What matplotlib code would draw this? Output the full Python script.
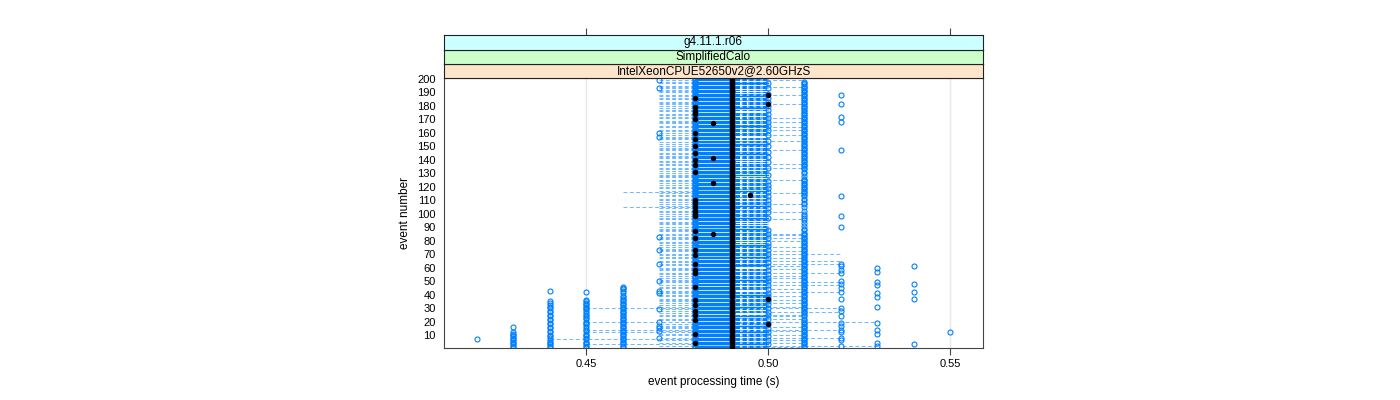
import numpy as np
import matplotlib
matplotlib.use('Agg')
import matplotlib.pyplot as plt

plt.rcParams['font.family'] = ['Liberation Sans', 'DejaVu Sans']

# data: event numbers and the times (s) at which runs were recorded
events = np.arange(1, 201)

col_042 = [7]
col_043 = [1, 2, 3, 4, 5, 6, 7, 8, 9, 10, 11, 12, 16]
col_044 = [1, 2, 3, 4, 5, 6, 8, 9, 10, 12, 13, 15, 16, 18, 19, 21, 22, 24, 25, 27, 28, 30, 31,
           32, 34, 35, 43]
col_045 = [1, 2, 3, 4, 5, 7, 8, 9, 10, 11, 13, 14, 15, 17, 18, 19, 20, 22, 23, 24, 25, 26, 28,
           29, 30, 31, 32, 33, 34, 35, 36, 42]
col_046 = [1, 2, 3, 4, 5, 6, 7, 8, 9, 10, 11, 12, 13, 14, 15, 16, 17, 18, 19, 20, 21, 22, 23, 24,
           25, 26, 27, 28, 29, 30, 31, 32, 33, 34, 35, 36, 37, 38, 39, 41, 43, 44, 45, 46]
col_047 = [8, 13, 15, 17, 20, 29, 41, 43, 50, 63, 73, 83, 157, 160, 193, 199]
col_048 = list(events)
col_049 = list(events)
col_050 = [3, 6, 9, 12, 15, 18, 22, 25, 27, 30, 33, 35, 37, 39, 41, 44, 47, 50, 52, 55, 58, 61,
           64, 67, 70, 73, 76, 78, 82, 85, 88, 97, 101, 104, 107, 110, 113, 116, 119, 121, 124,
           129, 134, 138, 142, 146, 150, 154, 158, 162, 165, 168, 171, 174, 177, 180, 183, 186,
           189, 193, 197]
col_051 = [1, 2, 3, 4, 5, 6, 7, 8, 9, 10, 11, 12, 13, 14, 15, 16, 17, 18, 19, 20, 21, 22, 24, 25,
           26, 27, 28, 29, 30, 31, 32, 33, 34, 35, 36, 37, 38, 39, 40, 41, 42, 43, 44, 45, 46, 47,
           48, 49, 50, 51, 52, 53, 54, 55, 56, 57, 58, 59, 60, 61, 62, 63, 64, 65, 66, 67, 68, 69,
           70, 71, 72, 73, 74, 75, 76, 77, 78, 79, 80, 81, 82, 83, 84, 85, 86, 88, 89, 91, 93, 95,
           97, 98, 100, 102, 105, 107, 108, 110, 111, 113, 114, 115, 116, 117, 118, 119, 120, 121,
           122, 123, 124, 125, 126, 128, 130, 131, 133, 134, 135, 136, 137, 138, 139, 140, 141,
           142, 143, 144, 145, 146, 147, 148, 149, 150, 151, 152, 153, 154, 155, 156, 157, 158,
           159, 160, 161, 162, 163, 164, 165, 166, 167, 168, 169, 170, 171, 172, 173, 174, 175,
           176, 177, 178, 179, 180, 181, 182, 183, 184, 185, 186, 187, 188, 189, 190, 191, 192,
           193, 194, 195, 196, 197, 198]
col_052 = [2, 6, 8, 12, 14, 17, 19, 24, 28, 30, 37, 42, 45, 48, 50, 56, 58, 61, 63, 90, 98, 113,
           147, 168, 172, 181, 188]
col_053 = [2, 4, 11, 14, 19, 31, 38, 41, 47, 49, 57, 60]
col_054 = [3, 37, 42, 48, 61]
col_055 = [12]

run_cols = {0.42: col_042, 0.43: col_043, 0.44: col_044, 0.45: col_045, 0.46: col_046,
            0.47: col_047, 0.48: col_048, 0.49: col_049, 0.50: col_050, 0.51: col_051,
            0.52: col_052, 0.53: col_053, 0.54: col_054, 0.55: col_055}

# reference run (black): 0.49 s unless listed
ref_048 = [4, 11, 21, 25, 28, 32, 36, 46, 56, 58, 63, 69, 73, 82, 87, 98, 100, 102, 105, 108,
           110, 131, 136, 140, 145, 150, 155, 160, 170, 174, 176, 179, 186]
ref_0485 = [85, 123, 141, 167]
ref_0495 = [114]
ref_050 = [18, 37, 181, 188]

# range of the dashed line for every event
lo_044 = [7]
lo_045 = [3, 12, 14, 20, 30]
lo_046 = [105, 116]
lo_048 = [1, 5, 9, 19, 23, 27, 33, 38, 44, 48, 53, 57, 61, 66, 71, 76, 80, 86, 91, 95, 99, 103,
          108, 112, 118, 122, 126, 131, 135, 140, 146, 151, 154, 159, 163, 166, 170, 175, 179,
          184, 189, 196, 200]
hi_049 = [26, 43, 60, 79, 93, 128, 139, 157, 176, 191]
hi_051 = [1, 4, 6, 10, 13, 16, 22, 24, 25, 31, 34, 36, 39, 44, 52, 54, 59, 61, 67, 72, 75, 80,
          82, 84, 85, 96, 101, 107, 115, 125, 134, 137, 147, 154, 158, 162, 164, 168, 171, 181,
          188, 194, 199]
hi_052 = [8, 14, 27, 30, 42, 47, 49, 56, 63, 65, 70]
hi_053 = [2, 20]
# events whose second run is spread wider than 0.48-0.49
wide_core = [3, 12, 17, 24, 31, 40, 51, 62, 68, 77, 89, 97, 106, 117, 129, 144, 152, 165, 178,
             187, 197]

lo = np.full(len(events), 0.47)
for vals, v in [(lo_048, 0.48), (lo_046, 0.46), (lo_045, 0.45), (lo_044, 0.44)]:
    lo[np.array(vals) - 1] = v
hi = np.full(len(events), 0.50)
for vals, v in [(hi_049, 0.49), (hi_051, 0.51), (hi_052, 0.52), (hi_053, 0.53)]:
    hi[np.array(vals) - 1] = v

ref = np.full(len(events), 0.49)
for vals, v in [(ref_048, 0.48), (ref_0485, 0.485), (ref_0495, 0.495), (ref_050, 0.50)]:
    ref[np.array(vals) - 1] = v

blue = '#0080ff'
pale = '#6db6ff'
W, H = 1400, 400
fig = plt.figure(figsize=(14, 4), dpi=100)

x0, x1 = 444, 983
y_top, y_bot = 78, 348
ax = fig.add_axes([x0 / W, 1 - y_bot / H, (x1 - x0) / W, (y_bot - y_top) / H])

xmin, xmax = 0.4109, 0.5591
for gx in [0.45, 0.50, 0.55]:
    ax.axvline(gx, color='#e8e8e8', lw=1, zorder=0)

for i, e in enumerate(events):
    ax.plot([lo[i], hi[i]], [e, e], color=pale, lw=0.7, dashes=(4, 2.5), zorder=1)
    ax.plot([0.48, 0.49], [e, e], color=blue, lw=0.9, zorder=1.2)
    if hi[i] >= 0.50:
        ax.plot([0.49, 0.50], [e, e], color=blue, lw=0.75,
                linestyle=(3.2, (4, 2.5)), zorder=1.1)
for e in wide_core:
    ax.plot([0.48, 0.50], [e, e], color=blue, lw=1.0, zorder=1.3)

for t, evs in run_cols.items():
    ax.plot(np.full(len(evs), t), evs, 'o', mfc='none', mec=blue, mew=0.8, ms=3.6, zorder=2)

ax.plot(ref, events, 'o', color='black', ms=2.9, zorder=3)

ax.set_xlim(xmin, xmax)
ax.set_ylim(0.4, 200.6)
ax.set_xticks([0.45, 0.50, 0.55])
ax.set_xticklabels(['0.45', '0.50', '0.55'])
ax.set_yticks(np.arange(10, 201, 10))
ax.tick_params(axis='x', direction='out', length=5, width=0.8, color='#444444', labelsize=8, pad=3)
ax.tick_params(axis='y', direction='out', length=0, labelsize=8, pad=6)
for s in ax.spines.values():
    s.set_color('#444444')
    s.set_linewidth(0.8)
ax.set_xlabel('event processing time (s)', fontsize=8.5, labelpad=5)
ax.set_ylabel('event number', fontsize=8.5, labelpad=4)

# strips
strips = [('IntelXeonCPUE52650v2@2.60GHzS', '#ffe5cc', 64, 78),
          ('SimplifiedCalo', '#ccffcc', 49.5, 64),
          ('g4.11.1.r06', '#ccffff', 35, 49.5)]
for i, (txt, col, ya, yb) in enumerate(strips):
    sax = fig.add_axes([x0 / W, 1 - yb / H, (x1 - x0) / W, (yb - ya) / H])
    sax.set_facecolor(col)
    sax.set_xlim(xmin, xmax)
    sax.set_yticks([])
    sax.text(0.5, 0.5, txt, transform=sax.transAxes, ha='center', va='center', fontsize=8.5)
    for s in sax.spines.values():
        s.set_color('#222222')
        s.set_linewidth(0.8)
    if i == 2:
        sax.set_xticks([0.45, 0.50, 0.55])
        sax.tick_params(axis='x', top=True, bottom=False, labeltop=False, labelbottom=False,
                        direction='out', length=5, width=0.8, color='#444444')
    else:
        sax.set_xticks([])

fig.savefig('out.png', dpi=100)
